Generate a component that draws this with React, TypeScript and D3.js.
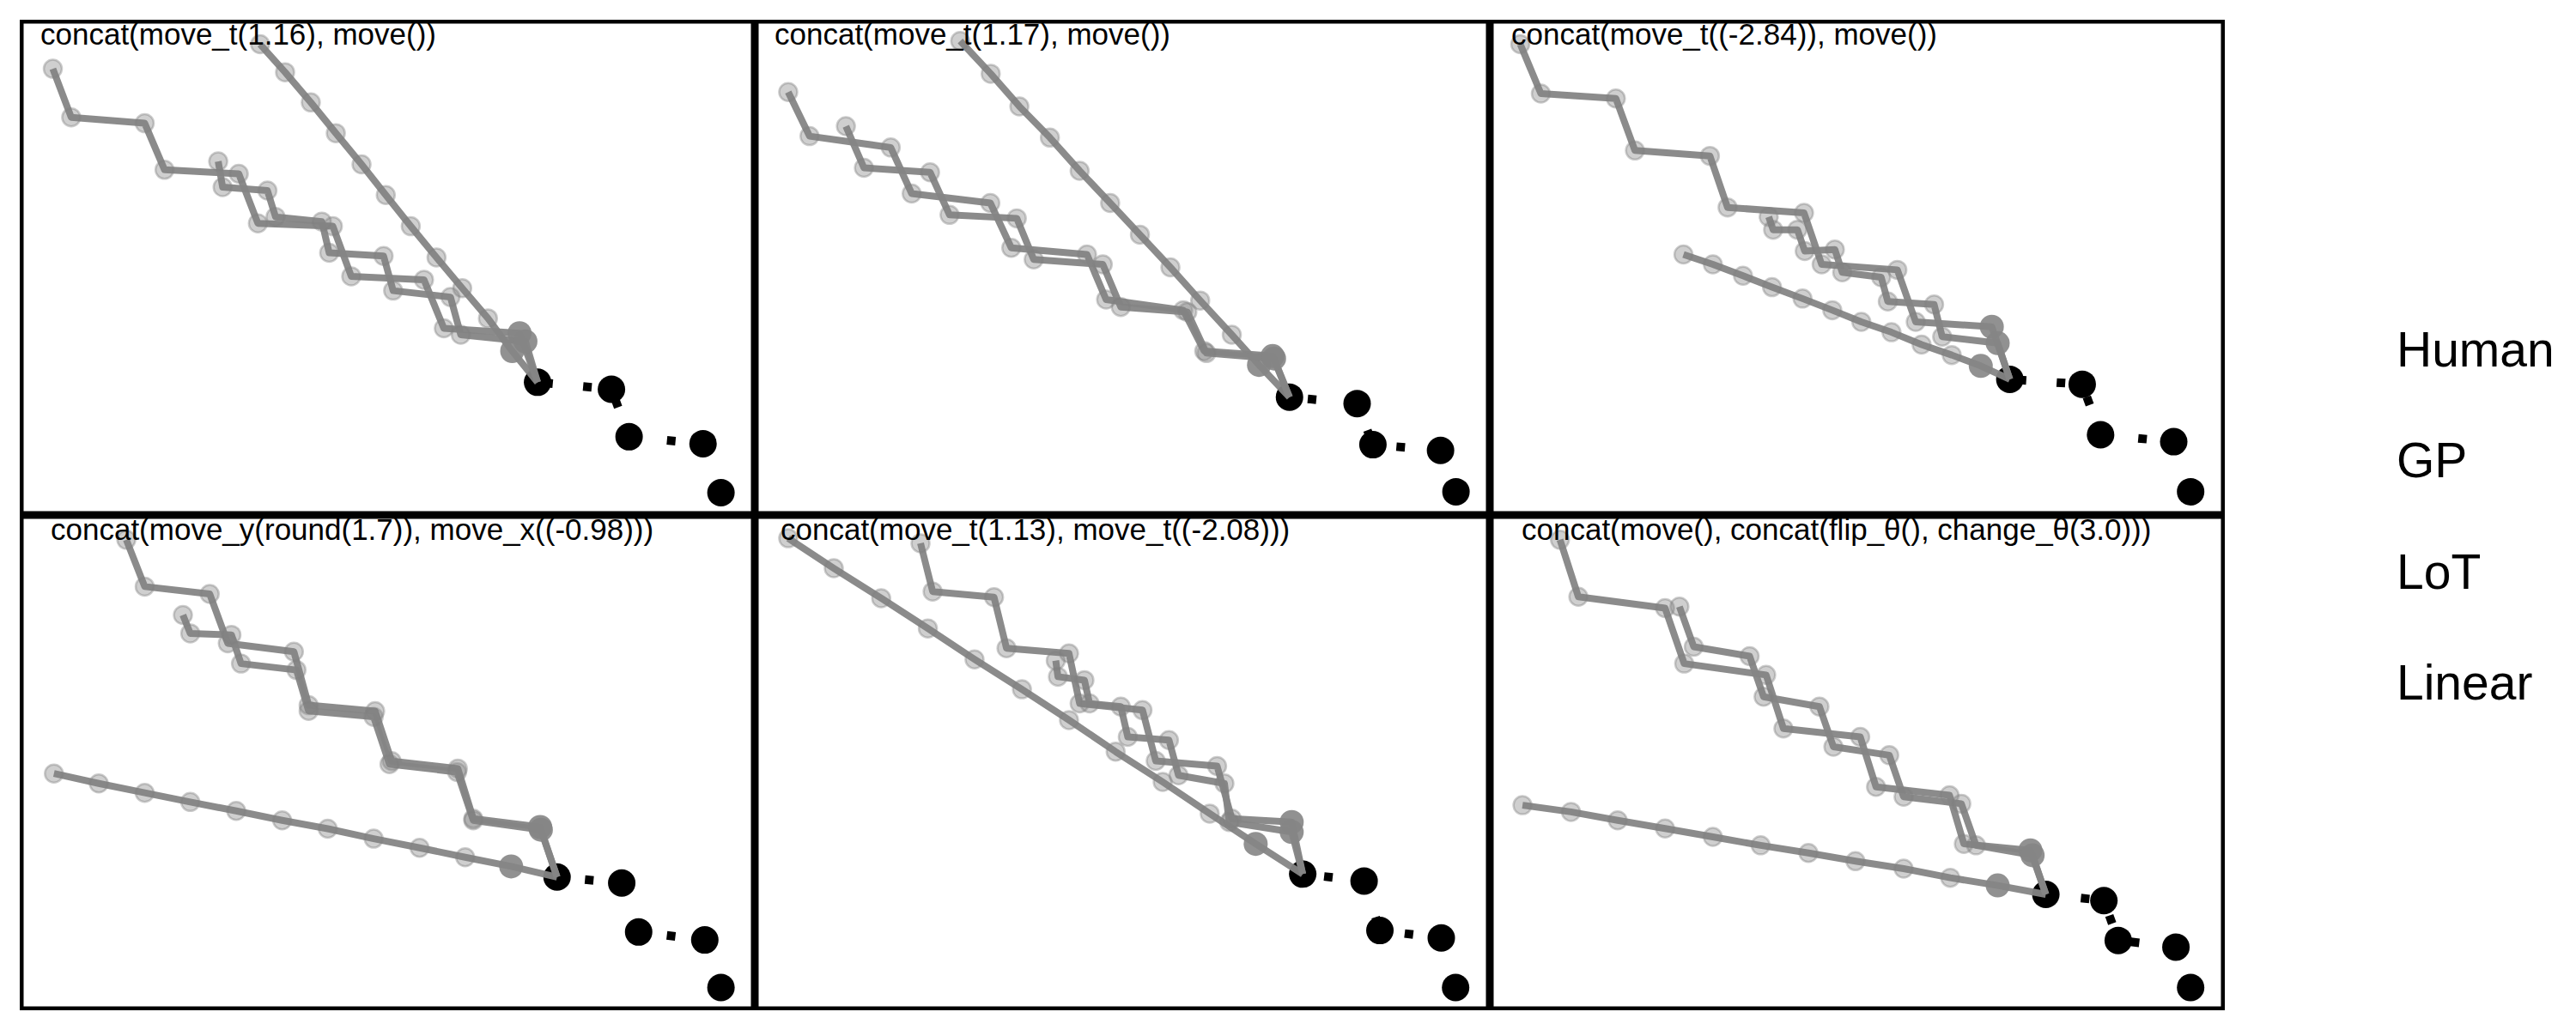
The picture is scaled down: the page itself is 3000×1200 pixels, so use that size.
import React from "react";
import * as d3 from "d3";

// ---------- data (panel-local units: x 0..100 left→right, y 0..100 bottom→top) ----------
const titles = [
  "concat(move_t(1.16), move())",
  "concat(move_t(1.17), move())",
  "concat(move_t((-2.84)), move())",
  "concat(move_y(round(1.7)), move_x((-0.98)))",
  "concat(move_t(1.13), move_t((-2.08)))",
  "concat(move(), concat(flip_θ(), change_θ(3.0)))",
];
const legendLabels = ["Human", "GP", "LoT", "Linear"];

// Panel 1
const p1Obs = [[70.45, 26.8], [80.5, 25.4], [82.9, 15.8], [92.96, 14.4], [95.4, 4.5]];
const p1A = [[67.0, 33.1], [63.7, 39.7], [60.2, 45.8], [56.7, 52.0], [53.2, 58.3], [49.8, 64.6], [46.5, 70.8], [43.0, 77.1], [39.6, 83.3], [36.1, 89.4], [32.7, 95.05]];
const p1B = [[68.0, 36.7], [57.7, 37.7], [55.0, 47.5], [45.1, 48.2], [42.6, 58.3], [32.4, 58.9], [29.8, 68.9], [19.7, 69.7], [17.0, 79.1], [7.0, 80.3], [4.5, 90.1]];
const p1C = [[68.8, 35.05], [60.0, 36.4], [58.6, 44.0], [50.8, 45.3], [49.5, 52.3], [42.1, 52.95], [41.1, 59.25], [34.8, 60.2], [33.7, 65.5], [27.6, 66.2], [27.0, 71.4]];

// Panel 2
const p2Obs = [[72.75, 23.8], [81.95, 22.5], [84.1, 14.2], [93.3, 13.05], [95.4, 4.7]];
const p2A = [[68.6, 30.3], [64.9, 36.4], [60.6, 43.3], [56.55, 50.0], [52.4, 56.6], [48.35, 63.0], [44.2, 69.5], [40.15, 76.2], [36.0, 82.5], [32.1, 89.1], [27.95, 95.7]];
const p2B = [[70.45, 32.1], [61.15, 33.1], [58.3, 41.35], [47.8, 43.5], [45.2, 52.6], [34.9, 53.95], [32.05, 63.0], [21.35, 64.9], [18.5, 74.2], [7.45, 76.5], [4.55, 85.4]];
const p2C = [[70.65, 31.6], [61.45, 32.7], [58.85, 41.0], [49.8, 42.0], [47.35, 50.6], [37.95, 51.6], [35.65, 59.9], [26.5, 60.6], [23.85, 69.2], [14.85, 70.1], [12.4, 78.5]];

// Panel 3
const p3Obs = [[70.75, 27.4], [80.6, 26.4], [83.1, 16.2], [93.05, 14.8], [95.35, 4.7]];
const p3A = [[66.8, 30.1], [62.85, 32.3], [58.75, 34.4], [54.65, 36.9], [50.55, 39.0], [46.6, 41.35], [42.55, 43.7], [38.4, 46.0], [34.45, 48.3], [30.35, 50.6], [26.35, 52.6]];
const p3B = [[68.3, 38.0], [57.95, 39.0], [55.45, 49.5], [45.15, 50.6], [42.75, 61.0], [32.35, 62.1], [29.95, 72.5], [19.75, 73.6], [17.15, 84.1], [6.95, 85.1], [4.15, 95.05]];
const p3C = [[69.1, 34.7], [61.55, 36.0], [60.45, 42.5], [54.15, 43.1], [53.25, 48.0], [47.95, 49.0], [46.95, 53.6], [42.85, 53.3], [41.85, 57.6], [38.55, 57.6], [37.95, 60.2]];

// Panel 4
const p4Obs = [[73.1, 26.9], [81.9, 25.7], [84.2, 15.8], [93.2, 14.2], [95.4, 4.6]];
const p4A = [[66.85, 29.05], [60.6, 30.9], [54.4, 32.8], [48.15, 34.65], [41.9, 36.65], [35.7, 38.35], [29.45, 40.25], [23.2, 42.05], [17.0, 43.9], [10.75, 45.8], [4.65, 47.8]];
const p4B = [[70.8, 37.0], [61.7, 38.7], [59.6, 48.8], [50.6, 50.3], [48.35, 60.4], [39.3, 61.6], [37.3, 72.4], [28.3, 74.1], [25.85, 84.05], [17.0, 85.55], [14.5, 95.0]];
const p4C = [[70.9, 36.45], [61.7, 38.35], [59.5, 48.1], [50.3, 49.7], [48.15, 59.25], [39.3, 60.45], [37.65, 68.7], [30.1, 70.0], [28.8, 75.8], [23.2, 76.1], [22.2, 79.8]];

// Panel 5
const p5Obs = [[74.55, 27.5], [82.9, 26.1], [85.05, 16.1], [93.4, 14.6], [95.35, 4.6]];
const p5A = [[68.15, 33.6], [61.9, 39.7], [55.5, 46.1], [49.1, 52.2], [42.75, 58.6], [36.35, 64.8], [29.9, 70.85], [23.55, 77.1], [17.2, 83.2], [10.75, 89.25], [4.55, 95.3]];
const p5B = [[73.05, 38.0], [64.9, 38.7], [62.9, 49.3], [54.55, 50.35], [52.75, 60.6], [44.2, 61.95], [42.75, 72.05], [34.25, 73.1], [32.55, 83.4], [24.2, 84.55], [22.55, 94.3]];
const p5C = [[73.05, 36.0], [64.55, 38.0], [63.9, 45.8], [57.65, 47.45], [56.35, 54.55], [50.75, 55.2], [49.8, 61.3], [45.55, 61.95], [44.85, 66.65], [41.25, 67.35], [40.95, 70.6]];

// Panel 6
const p6Obs = [[75.65, 23.4], [83.55, 22.15], [85.5, 14.1], [93.35, 12.75], [95.35, 4.6]];
const p6A = [[69.1, 25.2], [62.65, 26.75], [56.3, 28.6], [49.75, 30.1], [43.35, 31.75], [36.85, 33.3], [30.35, 35.0], [23.85, 36.7], [17.4, 38.35], [11.05, 40.05], [4.45, 41.4]];
const p6B = [[73.55, 32.3], [64.5, 33.6], [62.55, 43.4], [52.55, 45.1], [50.4, 55.2], [39.95, 56.9], [37.6, 67.7], [26.45, 70.0], [23.85, 81.2], [12.05, 83.5], [9.55, 95.0]];
const p6C = [[73.85, 31.3], [66.15, 33.3], [64.15, 41.7], [56.3, 43.1], [54.35, 51.5], [46.75, 53.2], [44.85, 61.3], [37.25, 63.3], [35.35, 71.5], [27.75, 73.4], [25.8, 81.5]];

const panels = [
  { obs: p1Obs, preds: [p1A, p1B, p1C] },
  { obs: p2Obs, preds: [p2A, p2B, p2C] },
  { obs: p3Obs, preds: [p3A, p3B, p3C] },
  { obs: p4Obs, preds: [p4A, p4B, p4C] },
  { obs: p5Obs, preds: [p5A, p5B, p5C] },
  { obs: p6Obs, preds: [p6A, p6B, p6C] },
];

// ---------- layout ----------
const W = 3000;
const H = 1200;
const COLS = [23, 879, 1735];
const ROWS = [23, 600];
const PW = 856;
const PH = 577;
const TITLE_DX = [24, 23, 25, 36, 30, 37];
const FONT = "'Liberation Sans', Arial, Helvetica, sans-serif";
const GRAY = "#858585";

function Panel({ idx }: { idx: number }) {
  const col = idx % 3;
  const row = Math.floor(idx / 3);
  const x0 = COLS[col];
  const y0 = ROWS[row];
  const x = d3.scaleLinear().domain([0, 100]).range([x0, x0 + PW]);
  const y = d3.scaleLinear().domain([0, 100]).range([y0 + PH, y0]);
  const line = d3
    .line<number[]>()
    .x((d) => x(d[0]))
    .y((d) => y(d[1]));
  const { obs, preds } = panels[idx];
  const obsReversed = obs.slice().reverse();
  return (
    <g>
      <rect
        x={x0 + 2.25}
        y={y0 + 2.25}
        width={PW - 4.5}
        height={PH - 4.5}
        fill="none"
        stroke="#000"
        strokeWidth={4.5}
      />
      <path
        d={line(obsReversed) || ""}
        fill="none"
        stroke="#000"
        strokeWidth={10}
        strokeDasharray="10,35.5"
        strokeDashoffset={-2}
      />
      {obs.map((d, i) => (
        <circle key={"o" + i} cx={x(d[0])} cy={y(d[1])} r={16} fill="#000" />
      ))}
      {preds.map((s, si) => (
        <g key={"s" + si}>
          <path
            d={line([obs[0], ...s]) || ""}
            fill="none"
            stroke={GRAY}
            strokeWidth={8}
            strokeLinejoin="round"
            strokeOpacity={0.95}
          />
          {s.map((d, i) =>
            i === 0 ? (
              <circle key={i} cx={x(d[0])} cy={y(d[1])} r={14} fill={GRAY} fillOpacity={0.9} />
            ) : (
              <circle
                key={i}
                cx={x(d[0])}
                cy={y(d[1])}
                r={10.5}
                fill="#808080"
                fillOpacity={0.38}
                stroke="#808080"
                strokeOpacity={0.4}
                strokeWidth={2.5}
              />
            )
          )}
        </g>
      ))}
      <text x={x0 + TITLE_DX[idx]} y={y0 + 29} fontFamily={FONT} fontSize={35} fill="#000">
        {titles[idx]}
      </text>
    </g>
  );
}

export default function App() {
  const legendY = d3.scalePoint<string>().domain(legendLabels).range([427, 815]);
  return (
    <svg
      width={W}
      height={H}
      viewBox={`0 0 ${W} ${H}`}
      style={{ position: "absolute", left: 0, top: 0, background: "#fff" }}
    >
      <rect x={0} y={0} width={W} height={H} fill="#fff" />
      {panels.map((_, i) => (
        <Panel key={i} idx={i} />
      ))}
      {legendLabels.map((l) => (
        <text key={l} x={2791} y={legendY(l)} fontFamily={FONT} fontSize={57} fill="#000">
          {l}
        </text>
      ))}
    </svg>
  );
}
